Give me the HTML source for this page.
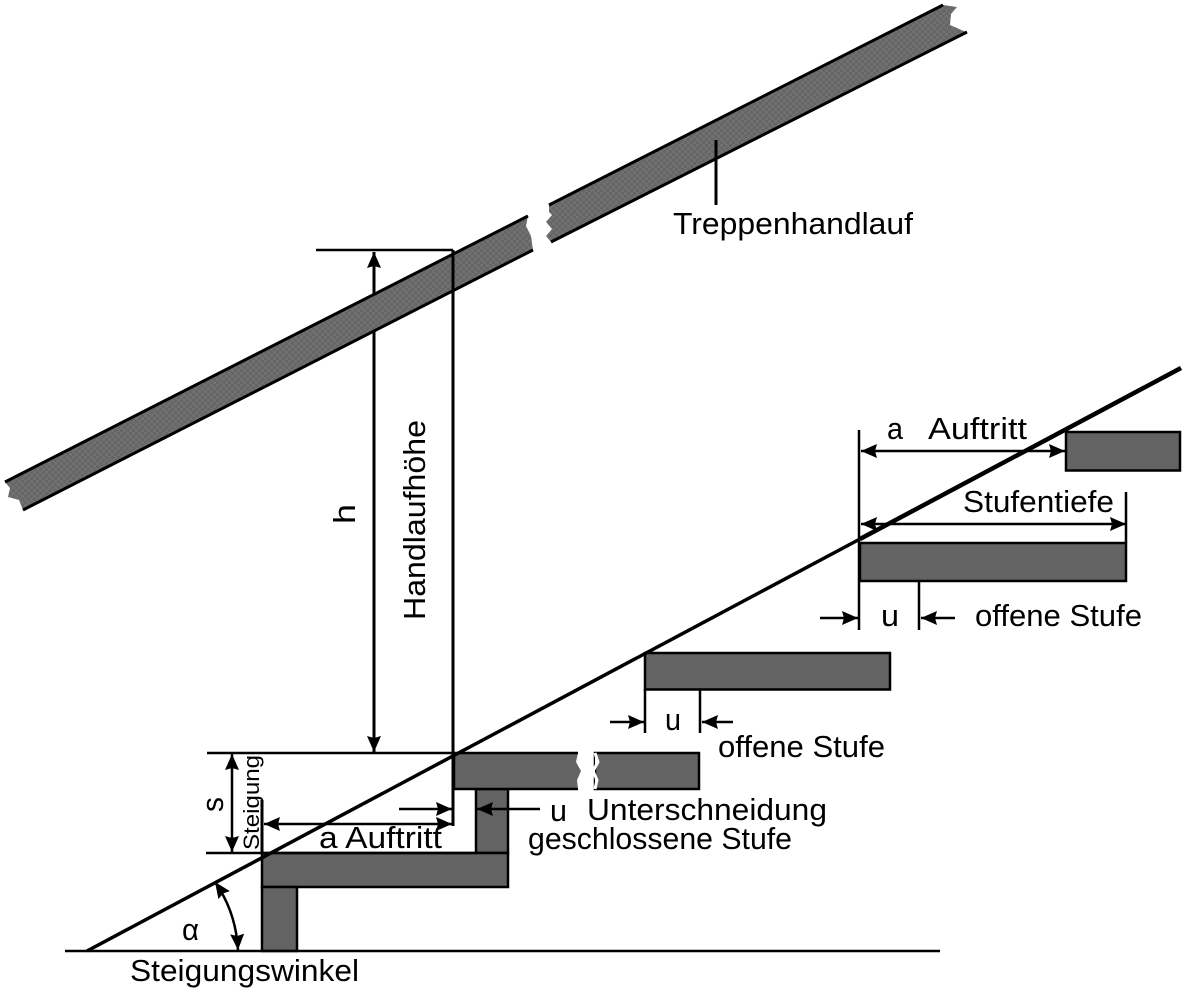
<!DOCTYPE html>
<html><head><meta charset="utf-8"><style>html,body{margin:0;padding:0;background:#fff;overflow:hidden}svg{display:block}text{font-family:"Liberation Sans",sans-serif;fill:#000}</style></head><body>
<svg width="1183" height="988" viewBox="0 0 1183 988" xmlns="http://www.w3.org/2000/svg">
<defs>
<pattern id="d" width="6" height="6" patternUnits="userSpaceOnUse"><rect width="6" height="6" fill="#666"/><rect x="0" y="0" width="3" height="3" fill="#707070"/><rect x="3" y="3" width="3" height="3" fill="#707070"/></pattern>
<marker id="a" viewBox="0 0 16 14" refX="16" refY="7" markerWidth="16" markerHeight="14" markerUnits="userSpaceOnUse" orient="auto-start-reverse"><path d="M0 0L16 7L0 14L2 7Z" fill="#000"/></marker>
</defs>
<!-- h dimension, passes behind the rail -->
<path d="M374 252V752" stroke="#000" stroke-width="3" fill="none" marker-start="url(#a)" marker-end="url(#a)"/>
<!-- handrail -->
<path d="M5 482L528 216L526 226L531 236L533 250L23 510L19 500L8 497L10 488Z" fill="url(#d)"/>
<path d="M549 205L943 5L957 7L951 14L950 25L966 32L551 242L546 236L552 229L546 222L552 215L549 212Z" fill="url(#d)"/>
<g stroke="#000" stroke-width="3" fill="none">
<path d="M5 482L528 216M23 510L533 250M549 205L943 5M551 242L967 32"/>
</g>
<!-- steps -->
<g fill="#636363" stroke="#000" stroke-width="2.5">
<rect x="1066" y="432" width="114" height="38.5"/>
<rect x="860" y="543" width="266" height="38"/>
<rect x="645" y="653" width="245" height="36.5"/>
<rect x="595" y="753" width="104" height="36"/>
<rect x="476" y="789" width="32" height="64"/>
<rect x="262" y="853" width="246" height="34"/>
<rect x="262" y="887" width="35" height="64"/>
</g>
<path d="M454 753H578L576 762L581 771L577 780L578 789H454Z" fill="#636363"/>
<path d="M454 753H578M454 789H578M454 753V789" stroke="#000" stroke-width="2.5" fill="none"/>
<path d="M595 753L598 762L593 771L597 780L595 789" fill="#fff" stroke="#fff" stroke-width="3"/>
<!-- main lines -->
<g stroke="#000" fill="none">
<path d="M87 951L860 539" stroke-width="3.5"/>
<path d="M860 539L1181 368" stroke-width="4.5"/>
<path d="M65 951H940" stroke-width="2.5"/>
<path d="M207 753H455M206 853H476M316 250H453" stroke-width="2.5"/>
<path d="M453 250V826M262 800V853M716 140V205" stroke-width="3"/>
<path d="M859 430V630M919 581V630M1126 492V543M645 689V733M700 689V733" stroke-width="2.5"/>
<g stroke-width="2.5">
<path d="M232 754V852" marker-start="url(#a)" marker-end="url(#a)"/>
<path d="M264 824H452" marker-start="url(#a)" marker-end="url(#a)"/>
<path d="M399 809H452" marker-end="url(#a)"/>
<path d="M540 809H477" marker-end="url(#a)"/>
<path d="M861 451H1065" marker-start="url(#a)" marker-end="url(#a)"/>
<path d="M861 524H1126" marker-start="url(#a)" marker-end="url(#a)"/>
<path d="M820 618H858" marker-end="url(#a)"/>
<path d="M955 618H921" marker-end="url(#a)"/>
<path d="M610 722H644" marker-end="url(#a)"/>
<path d="M733 722H702" marker-end="url(#a)"/>
<path d="M215 882Q236 912 238 950" marker-start="url(#a)" marker-end="url(#a)"/>
</g>
</g>
<!-- labels -->
<g font-size="31">
<text x="673" y="234" textLength="240" lengthAdjust="spacingAndGlyphs">Treppenhandlauf</text>
<text transform="translate(425 620) rotate(-90)" textLength="200" lengthAdjust="spacingAndGlyphs">Handlaufhöhe</text>
<text transform="translate(355 524) rotate(-90)" textLength="20" lengthAdjust="spacingAndGlyphs">h</text>
<text x="887" y="439" textLength="16" lengthAdjust="spacingAndGlyphs">a</text>
<text x="928" y="439" textLength="99" lengthAdjust="spacingAndGlyphs">Auftritt</text>
<text x="963" y="512" textLength="151" lengthAdjust="spacingAndGlyphs">Stufentiefe</text>
<text x="881" y="626" textLength="18" lengthAdjust="spacingAndGlyphs">u</text>
<text x="975" y="626" textLength="167" lengthAdjust="spacingAndGlyphs">offene Stufe</text>
<text x="665" y="730" textLength="16" lengthAdjust="spacingAndGlyphs">u</text>
<text x="718" y="757" textLength="167" lengthAdjust="spacingAndGlyphs">offene Stufe</text>
<text x="550" y="821" textLength="17" lengthAdjust="spacingAndGlyphs">u</text>
<text x="587" y="820" textLength="240" lengthAdjust="spacingAndGlyphs">Unterschneidung</text>
<text x="528" y="849" textLength="264" lengthAdjust="spacingAndGlyphs">geschlossene Stufe</text>
<text x="319" y="848" textLength="123" lengthAdjust="spacingAndGlyphs">a Auftritt</text>
<text transform="translate(223 812) rotate(-90)" textLength="15" lengthAdjust="spacingAndGlyphs">s</text>
<text x="182" y="940" textLength="17" lengthAdjust="spacingAndGlyphs">α</text>
<text x="130" y="981" textLength="229" lengthAdjust="spacingAndGlyphs">Steigungswinkel</text>
</g>
<text transform="translate(259 850) rotate(-90)" font-size="22" textLength="95" lengthAdjust="spacingAndGlyphs">Steigung</text>
</svg>
</body></html>
